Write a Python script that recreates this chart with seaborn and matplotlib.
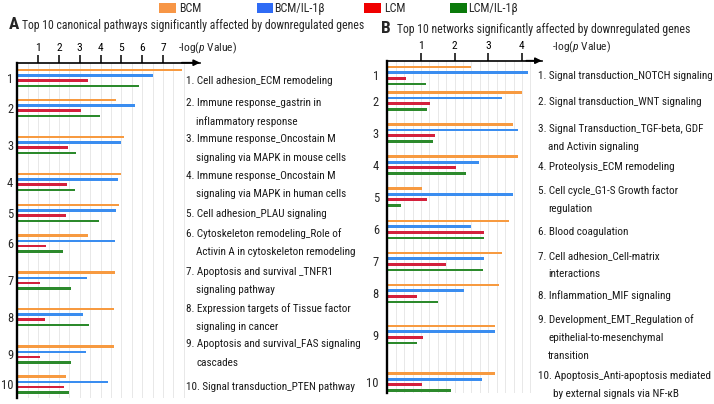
import numpy as np
import pandas as pd
import matplotlib
matplotlib.use("Agg")
import matplotlib.pyplot as plt
import seaborn as sns
from matplotlib import font_manager
from matplotlib.patches import Rectangle

# ---------------- data ----------------
conditions = ["BCM", "BCM/IL-1β", "LCM", "LCM/IL-1β"]
rank_labels = [str(i) for i in range(1, 11)]

pathways_A = [
    "1. Cell adhesion_ECM remodeling",
    "2. Immune response_gastrin in\ninflammatory response",
    "3. Immune response_Oncostain M\nsignaling via MAPK in mouse cells",
    "4. Immune response_Oncostain M\nsignaling via MAPK in human cells",
    "5. Cell adhesion_PLAU signaling",
    "6. Cytoskeleton remodeling_Role of\nActivin A in cytoskeleton remodeling",
    "7. Apoptosis and survival _TNFR1\nsignaling pathway",
    "8. Expression targets of Tissue factor\nsignaling in cancer",
    "9. Apoptosis and survival_FAS signaling\ncascades",
    "10. Signal transduction_PTEN pathway",
]
networks_B = [
    "1. Signal transduction_NOTCH signaling",
    "2. Signal transduction_WNT signaling",
    "3. Signal Transduction_TGF-beta, GDF\nand Activin signaling",
    "4. Proteolysis_ECM remodeling",
    "5. Cell cycle_G1-S Growth factor\nregulation",
    "6. Blood coagulation",
    "7. Cell adhesion_Cell-matrix\ninteractions",
    "8. Inflammation_MIF signaling",
    "9. Development_EMT_Regulation of\nepithelial-to-mesenchymal\ntransition",
    "10. Apoptosis_Anti-apoptosis mediated\nby external signals via NF-κB",
]

bcm_A    = [7.93, 4.73, 5.11, 4.99, 4.87, 3.38, 4.68, 4.66, 4.63, 2.32]
bcm_il_A = [6.50, 5.66, 4.97, 4.84, 4.73, 4.71, 3.37, 3.16, 3.32, 4.38]
lcm_A    = [3.41, 3.06, 2.45, 2.39, 2.36, 1.39, 1.07, 1.35, 1.07, 2.23]
lcm_il_A = [5.83, 3.99, 2.84, 2.77, 3.91, 2.21, 2.58, 3.45, 2.56, 2.50]

bcm_B    = [2.50, 3.99, 3.73, 3.87, 1.03, 3.61, 3.41, 3.32, 3.19, 3.21]
bcm_il_B = [4.19, 3.42, 3.88, 2.71, 3.72, 2.50, 2.86, 2.27, 3.21, 2.81]
lcm_B    = [0.55, 1.28, 1.43, 2.05, 1.19, 2.88, 1.73, 0.87, 1.05, 1.02]
lcm_il_B = [1.16, 1.17, 1.37, 2.33, 0.41, 2.86, 2.83, 1.51, 0.87, 1.88]

ticks_A = [1, 2, 3, 4, 5, 6, 7]
ticks_B = [1, 2, 3, 4]

# ---------------- layout / style ----------------
W, H = 714, 404
bar_colors = ["#F79A40", "#3A8DF0", "#D4203C", "#2C8A2C"]
legend_colors = ["#F79646", "#2F6BF5", "#F00000", "#0B7A0B"]

group_y_A = [78, 108, 145, 182, 213, 243.5, 280.5, 317, 354.5, 384.5]
group_y_B = [75.5, 100.8, 132.8, 165, 197, 229.5, 261.5, 293.5, 334.5, 382]
text_y_A = [81, 102.7, 139.3, 175.7, 214.3, 233.3, 271.7, 308.3, 344.3, 386.7]
text_y_B = [76, 101.7, 129.3, 166.7, 191, 231.7, 255.7, 296, 320, 376]

sns.set_style("white")

# pick a narrow / condensed sans if one is installed
FAM, STRETCH = "Liberation Sans", "normal"
cands = []
for f in font_manager.fontManager.ttflist:
    fn = f.fname.lower()
    if ("narrow" in fn or "condensed" in fn) and "semi" not in fn and "extra" not in fn \
            and "ultra" not in fn and f.style == "normal":
        cands.append(f)
pref = ["Liberation Sans Narrow", "Arial Narrow", "Roboto Condensed", "Noto Sans",
        "Noto Sans Condensed", "Open Sans Condensed", "Open Sans", "DejaVu Sans Condensed",
        "DejaVu Sans"]
chosen = None
for p in pref:
    for f in cands:
        if f.name == p:
            chosen = f
            break
    if chosen:
        break
if chosen is None and cands:
    chosen = cands[0]
if chosen is not None:
    FAM, STRETCH = chosen.name, chosen.stretch

plt.rcParams["font.family"] = [FAM, "DejaVu Sans"]
plt.rcParams["font.stretch"] = STRETCH
plt.rcParams["mathtext.fontset"] = "custom"
plt.rcParams["mathtext.rm"] = FAM
plt.rcParams["mathtext.it"] = FAM + ":italic"

fig = plt.figure(figsize=(W / 100, H / 100), dpi=100)
renderer = fig.canvas.get_renderer()

# calibrate font size so text widths match the reference
probe = fig.text(0, 0, "1. Cell adhesion_ECM remodeling", fontsize=10)
wprobe = probe.get_window_extent(renderer).width
probe.remove()
SC = (146.0 / wprobe) * 10 / 8.35
SC = min(SC, 1.15)


def fx(x):
    return x / W


def fy(y):
    return 1 - y / H


def add_axes(left, right, top, bottom):
    return fig.add_axes([fx(left), fy(bottom), (right - left) / W, (bottom - top) / H])


def draw_panel(ax, vals, ypos, xmax, ticks, width, gap, grid_step, grid_max,
               top, bottom, ypad):
    df = pd.DataFrame({
        "value": np.concatenate([np.asarray(v, float) for v in vals]),
        "ypos": np.tile(np.asarray(ypos, float), len(vals)),
        "condition": np.repeat(conditions, len(ypos)),
    })
    for g in np.arange(grid_step, grid_max + 1e-9, grid_step):
        ax.axvline(g, color="#E4E4E4", lw=0.6, zorder=0)
    sns.barplot(data=df, x="value", y="ypos", hue="condition", hue_order=conditions,
                palette=bar_colors, orient="y", native_scale=True, width=width,
                gap=gap, errorbar=None, saturation=1, linewidth=0, legend=False,
                ax=ax, zorder=2)
    ax.set_xlim(0, xmax)
    ax.set_ylim(bottom, top)
    ax.set_xlabel("")
    ax.set_ylabel("")
    ax.set_facecolor("none")
    for s in ["right", "bottom"]:
        ax.spines[s].set_visible(False)
    ax.spines["left"].set_linewidth(1.7)
    ax.spines["top"].set_linewidth(1.2)
    ax.spines["left"].set_color("black")
    ax.spines["top"].set_color("black")
    ax.xaxis.tick_top()
    ax.set_xticks(ticks)
    ax.set_xticklabels([str(t) for t in ticks])
    ax.tick_params(axis="x", direction="out", length=5.5, width=1.1, pad=1.5,
                   labelsize=8.6 * SC, colors="black")
    ax.set_yticks(ypos)
    ax.set_yticklabels(rank_labels)
    ax.tick_params(axis="y", length=0, pad=ypad, labelsize=9.4 * SC)
    ax.annotate("", xy=(1.0, 1.0), xytext=(0.9, 1.0), xycoords="axes fraction",
                arrowprops=dict(arrowstyle="-|>", color="black", lw=1.2,
                                mutation_scale=9, shrinkA=0, shrinkB=0),
                annotation_clip=False)


axA = add_axes(17.3, 200, 62.7, 398)
draw_panel(axA, [bcm_A, bcm_il_A, lcm_A, lcm_il_A], group_y_A,
           (200 - 17.3) / 20.8, ticks_A, 0.707, 0.5, 0.5, 8.0, 62.7, 398, 3)

axB = add_axes(387.3, 541.7, 60.7, 393)
draw_panel(axB, [bcm_B, bcm_il_B, lcm_B, lcm_il_B], group_y_B,
           (541.7 - 387.3) / 33.67, ticks_B, 0.897, 0.52, 0.25, 4.25, 60.7, 393, 6)

fig.text(fx(178), fy(48), r"-log($\it{p}$ Value)", fontsize=8.6 * SC, va="center", ha="left")
fig.text(fx(552), fy(47), r"-log($\it{p}$ Value)", fontsize=8.6 * SC, va="center", ha="left")

fig.text(fx(9), fy(24.5), "A", fontsize=13 * SC, fontweight="bold", va="center", ha="left")
fig.text(fx(22), fy(25.5), "Top 10 canonical pathways significantly affected by downregulated genes",
         fontsize=8.8 * SC, va="center", ha="left")
fig.text(fx(381), fy(28.5), "B", fontsize=13 * SC, fontweight="bold", va="center", ha="left")
fig.text(fx(397), fy(29), "Top 10 networks significantly affected by downregulated genes",
         fontsize=8.8 * SC, va="center", ha="left")


def put_labels(labels, ys, x0, step):
    for i, (lab, y0) in enumerate(zip(labels, ys)):
        lines = lab.split("\n")
        indent = 15 if i == 9 else 10
        for j, line in enumerate(lines):
            x = x0 if j == 0 else x0 + indent
            fig.text(fx(x), fy(y0 + j * step), line, fontsize=8.35 * SC,
                     va="center", ha="left", color="#1A1A1A")


put_labels(pathways_A, text_y_A, 186, 18.5)
put_labels(networks_B, text_y_B, 538.3, 18.0)

leg_patch_x = [159, 256.7, 364, 450]
leg_text_x = [179.5, 274, 384, 468.3]
for c, px, tx, col in zip(conditions, leg_patch_x, leg_text_x, legend_colors):
    fig.patches.append(Rectangle((fx(px), fy(13.3)), 16.5 / W, 10.6 / H,
                                 transform=fig.transFigure, facecolor=col,
                                 edgecolor="none"))
    fig.text(fx(tx), fy(8.5), c, fontsize=9 * SC, va="center", ha="left")

fig.savefig("out.png", dpi=100)
